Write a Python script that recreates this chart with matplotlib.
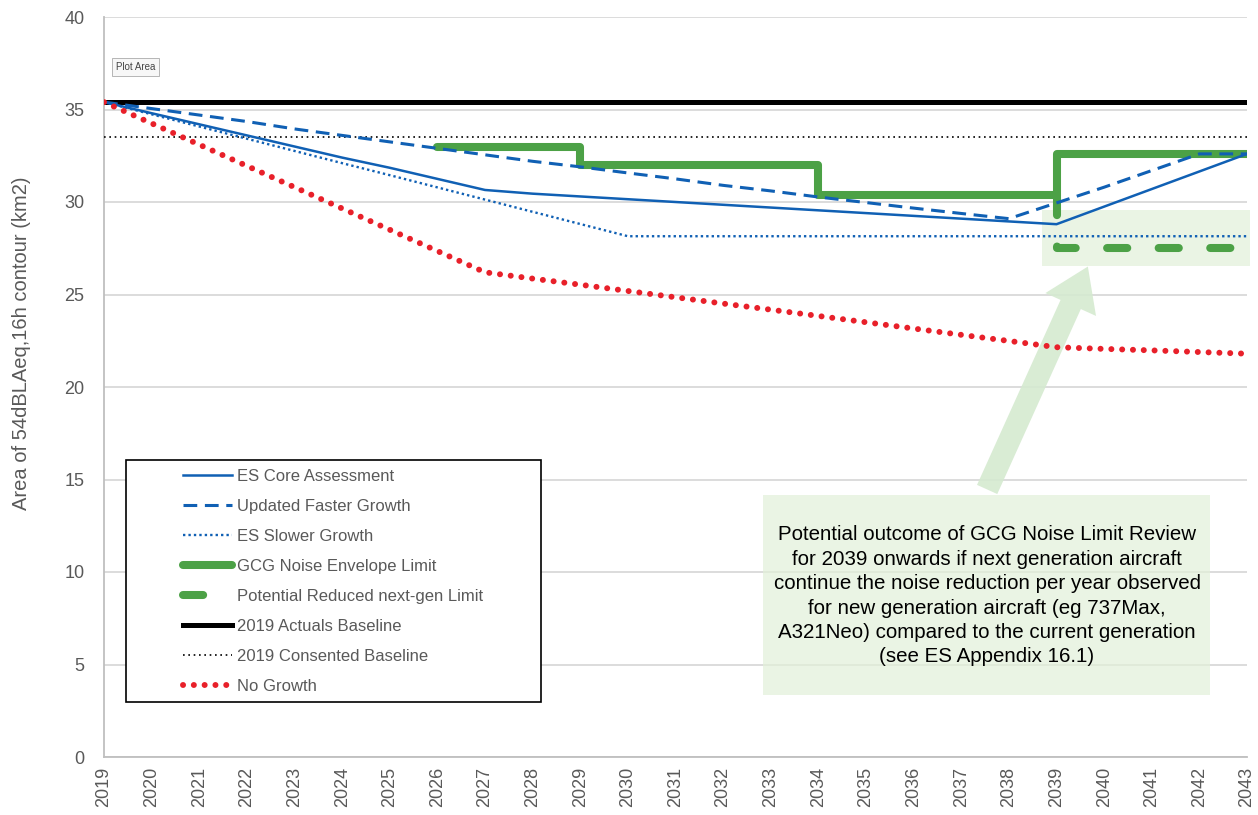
import matplotlib
matplotlib.use("Agg")
import matplotlib.pyplot as plt
from matplotlib.patches import Rectangle, FancyArrowPatch

plt.rcParams['font.family'] = ['Liberation Sans', 'DejaVu Sans']

years = list(range(2019, 2044))

es_core = [35.4, 34.8, 34.2, 33.6, 33.0, 32.4, 31.85, 31.25, 30.65, 30.45,
           30.3, 30.15, 30.0, 29.85, 29.7, 29.55, 29.4, 29.25, 29.1, 28.95,
           28.8, 29.75, 30.7, 31.65, 32.6]
faster_growth = [35.4, 35.05, 34.7, 34.35, 33.95, 33.6, 33.25, 32.9, 32.55, 32.2,
                 31.9, 31.57, 31.25, 30.9, 30.6, 30.27, 29.97, 29.67, 29.38, 29.1,
                 29.95, 30.8, 31.7, 32.6, 32.6]
slower_growth = [35.4, 34.74, 34.08, 33.42, 32.76, 32.1, 31.45, 30.79, 30.13, 29.47,
                 28.81, 28.15, 28.15, 28.15, 28.15, 28.15, 28.15, 28.15, 28.15, 28.15,
                 28.15, 28.15, 28.15, 28.15, 28.15]
no_growth = [35.4, 34.25, 33.1, 31.95, 30.8, 29.65, 28.5, 27.35, 26.2, 25.86,
             25.53, 25.19, 24.85, 24.51, 24.18, 23.84, 23.5, 23.16, 22.82, 22.49,
             22.15, 22.06, 21.98, 21.89, 21.8]

gcg_years = [2026, 2029, 2029, 2034, 2034, 2039, 2039, 2043]
gcg_limit = [33.0, 33.0, 32.0, 32.0, 30.4, 30.4, 32.6, 32.6]

reduced_years = [2039, 2039, 2043]
reduced_limit = [30.4, 27.5, 27.5]

actuals_baseline = 35.4
consented_baseline = 33.5

note = ("Potential outcome of GCG Noise Limit Review\n"
        "for 2039 onwards if next generation aircraft\n"
        "continue the noise reduction per year observed\n"
        "for new generation aircraft (eg 737Max,\n"
        "A321Neo) compared to the current generation\n"
        "(see ES Appendix 16.1)")

blue = '#1060B4'
green = '#4CA146'
red = '#E8202A'
grey_txt = '#595959'

W, H = 1258, 815
fig = plt.figure(figsize=(W / 100, H / 100), dpi=100)
ax = fig.add_axes([104 / W, 58 / H, 1143 / W, 740 / H])

ax.plot(years, es_core, color=blue, lw=1.8, label='ES Core Assessment', zorder=5)
ax.plot(years, faster_growth, color=blue, lw=2.2, linestyle=(0, (4.5, 2.5)),
        label='Updated Faster Growth', zorder=5)
ax.plot(years, slower_growth, color=blue, lw=1.7, linestyle=(0, (1, 1.3)),
        label='ES Slower Growth', zorder=5)
ax.plot(gcg_years, gcg_limit, color=green, lw=5.8, solid_capstyle='round',
        solid_joinstyle='round', label='GCG Noise Envelope Limit', zorder=4)
ax.plot(reduced_years, reduced_limit, color=green, lw=5.8, linestyle=(0, (2.5, 3.9)),
        dash_capstyle='round', label='Potential Reduced next-gen Limit', zorder=4)
ax.plot([years[0], years[-1]], [actuals_baseline] * 2, color='black', lw=3.6,
        label='2019 Actuals Baseline', zorder=4)
ax.plot([years[0], years[-1]], [consented_baseline] * 2, color='black', lw=1.2,
        linestyle=(0, (1, 2.2)), label='2019 Consented Baseline', zorder=4)
ax.plot(years, no_growth, color=red, lw=4.3, linestyle=(0, (0.01, 1.8)),
        dash_capstyle='round', label='No Growth', zorder=5)

ax.set_xlim(2019, 2043)
ax.set_ylim(0, 40)
ax.set_xticks(years)
ax.set_xticklabels([str(y) for y in years], rotation=90)
ax.set_yticks(range(0, 41, 5))
ax.tick_params(axis='x', length=0, pad=7, labelsize=13, colors=grey_txt)
ax.tick_params(axis='y', length=0, pad=14, labelsize=13, colors=grey_txt)
ax.grid(axis='y', color='#D9D9D9', lw=1.3, zorder=0)
ax.set_axisbelow(True)
for s in ['top', 'right']:
    ax.spines[s].set_visible(False)
for s in ['left', 'bottom']:
    ax.spines[s].set_color('#BFBFBF')
    ax.spines[s].set_linewidth(1.3)
ax.set_ylabel('Area of 54dBLAeq,16h contour (km2)', fontsize=14.5, color=grey_txt)
ax.yaxis.set_label_coords((31 - 104) / 1143, (757 - 343) / 740)


def px(x, y):
    # screen pixel -> data coords
    return 2019 + (x - 104) / 47.625, (757 - y) / 18.5


# annotation: shaded box, arrow, note
x0, y0 = px(1042, 266)
x1, y1 = px(1250, 210)
ax.add_patch(Rectangle((x0, y0), x1 - x0, y1 - y0, facecolor='#E2F0D9', alpha=0.7,
                       edgecolor='none', zorder=2, clip_on=False))
tx0, ty0 = px(763, 695)
tx1, ty1 = px(1210, 495)
ax.add_patch(Rectangle((tx0, ty0), tx1 - tx0, ty1 - ty0, facecolor='#E2F0D9', alpha=0.7,
                       edgecolor='none', zorder=2))
ax.add_patch(FancyArrowPatch(px(986, 492), px(1089, 264),
                             arrowstyle='simple,head_width=2.0,head_length=1.5,tail_width=0.8',
                             mutation_scale=20, facecolor='#D5EAD0', edgecolor='none',
                             alpha=0.9, zorder=2))
cx, cy = px(987, 596)
ax.text(cx, cy, note, ha='center', va='center', fontsize=14.8, color='black',
        linespacing=1.36, zorder=6)

# legend with its own frame
fig.patches.append(Rectangle((126 / W, 1 - 702 / H), 415 / W, 242 / H, transform=fig.transFigure,
                             facecolor='white', edgecolor='black', lw=1.2, zorder=6))
leg = fig.legend(loc='upper left', bbox_to_anchor=(183 / W, 1 - 469 / H), frameon=False,
                 fontsize=12, labelcolor=grey_txt, handlelength=2.95, handletextpad=0.3,
                 labelspacing=0.9, borderpad=0, borderaxespad=0)
leg.set_zorder(7)

fig.text(116 / W, 1 - 67 / H, 'Plot Area', fontsize=7, color='#444444', va='center',
         bbox=dict(boxstyle='square,pad=0.4', facecolor='#F7F7F7', edgecolor='#AAAAAA', lw=0.6))

fig.savefig('out.png', dpi=100)
